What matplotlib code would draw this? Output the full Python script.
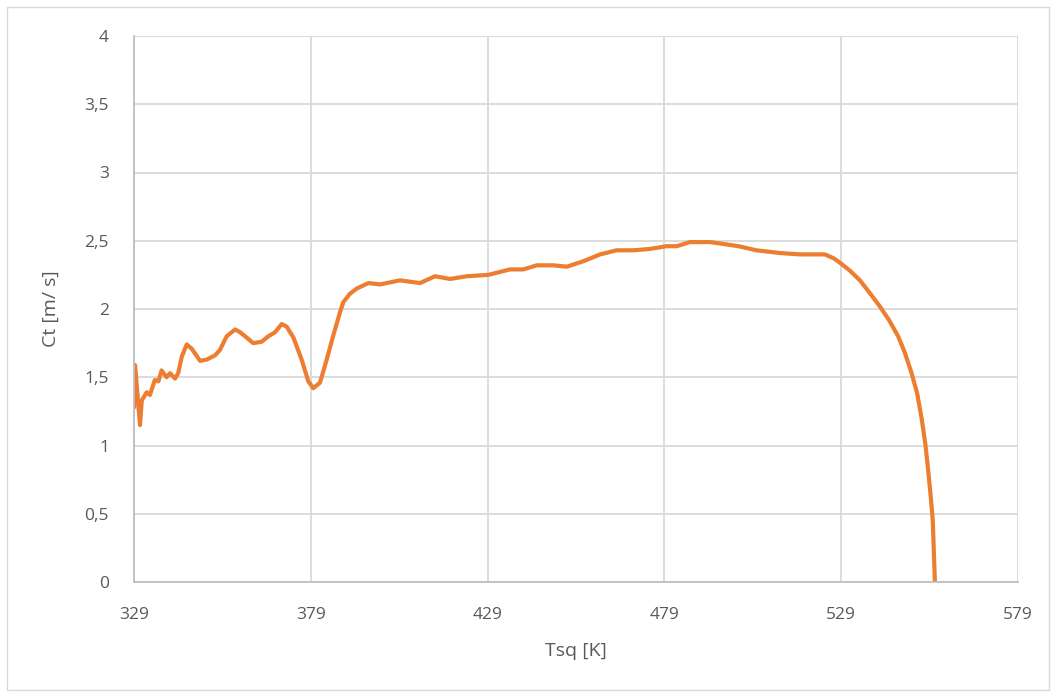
import matplotlib.pyplot as plt
from matplotlib.patches import Rectangle
from matplotlib.ticker import FuncFormatter

tsq = [329.0, 329.3, 330.7, 331.2, 332.6, 333.5, 334.9, 335.9, 336.8, 338.2,
       339.2, 340.6, 341.5, 342.5, 343.9, 345.3, 347.7, 349.6, 351.9, 353.3,
       355.2, 357.6, 359.0, 360.9, 362.7, 365.1, 367.0, 368.9, 370.8, 372.2,
       374.1, 376.4, 378.3, 379.7, 381.6, 383.5, 385.4, 387.3, 388.2, 390.0,
       392.0, 395.3, 398.6, 404.2, 409.9, 414.1, 418.4, 423.1, 429.2, 435.3,
       439.1, 442.9, 447.6, 451.4, 456.1, 460.8, 465.5, 470.2, 474.9, 479.6,
       482.5, 486.2, 491.9, 494.7, 500.0, 505.0, 511.7, 517.3, 524.4, 527.0,
       529.1, 531.5, 534.3, 537.0, 539.9, 542.5, 545.1, 547.0, 548.9, 550.5,
       551.8, 552.8, 553.6, 554.3, 554.9, 555.2, 555.5]
ct = [1.27, 1.59, 1.15, 1.33, 1.39, 1.37, 1.48, 1.47, 1.55, 1.50,
      1.53, 1.49, 1.53, 1.65, 1.74, 1.71, 1.62, 1.63, 1.66, 1.70,
      1.80, 1.85, 1.83, 1.79, 1.75, 1.76, 1.80, 1.83, 1.89, 1.87,
      1.79, 1.63, 1.47, 1.42, 1.46, 1.63, 1.81, 1.98, 2.05, 2.11,
      2.15, 2.19, 2.18, 2.21, 2.19, 2.24, 2.22, 2.24, 2.25, 2.29,
      2.29, 2.32, 2.32, 2.31, 2.35, 2.40, 2.43, 2.43, 2.44, 2.46,
      2.46, 2.49, 2.49, 2.48, 2.46, 2.43, 2.41, 2.40, 2.40, 2.37,
      2.33, 2.28, 2.21, 2.12, 2.02, 1.92, 1.80, 1.68, 1.53, 1.38,
      1.19, 1.01, 0.82, 0.63, 0.45, 0.22, 0.0]

x_ticks = [329, 379, 429, 479, 529, 579]
y_ticks = [0, 0.5, 1, 1.5, 2, 2.5, 3, 3.5, 4]

plt.rcParams['font.family'] = ['Open Sans', 'DejaVu Sans']

fig = plt.figure(figsize=(10.56, 6.97), dpi=100)
fig.patches.append(Rectangle((7 / 1056, 7 / 697), 1042 / 1056, 683 / 697,
                             transform=fig.transFigure, fill=False,
                             edgecolor='#D9D9D9', linewidth=1))
ax = fig.add_axes([134 / 1056, 1 - 582 / 697, 884 / 1056, 546 / 697])

ax.plot(tsq, ct, color='#ED7D31', linewidth=3, solid_joinstyle='round',
        solid_capstyle='butt')

ax.set_xlim(329, 579)
ax.set_ylim(0, 4)
ax.set_xticks(x_ticks)
ax.set_yticks(y_ticks)
ax.yaxis.set_major_formatter(FuncFormatter(lambda v, p: ('%g' % v).replace('.', ',')))
ax.grid(True, color='#D9D9D9', linewidth=1.3)
ax.set_axisbelow(True)

for s in ['top', 'right']:
    ax.spines[s].set_visible(False)
for s in ['left', 'bottom']:
    ax.spines[s].set_color('#BFBFBF')
    ax.spines[s].set_linewidth(1.3)

ax.tick_params(length=0, labelsize=12.5, labelcolor='#595959')
ax.tick_params(axis='x', pad=18)
ax.tick_params(axis='y', pad=18)

ax.set_xlabel('Tsq [K]', fontsize=14, color='#595959', labelpad=14)
ax.set_ylabel('Ct [m/ s]', fontsize=14, color='#595959', labelpad=18)

fig.savefig('out.png', dpi=100)
